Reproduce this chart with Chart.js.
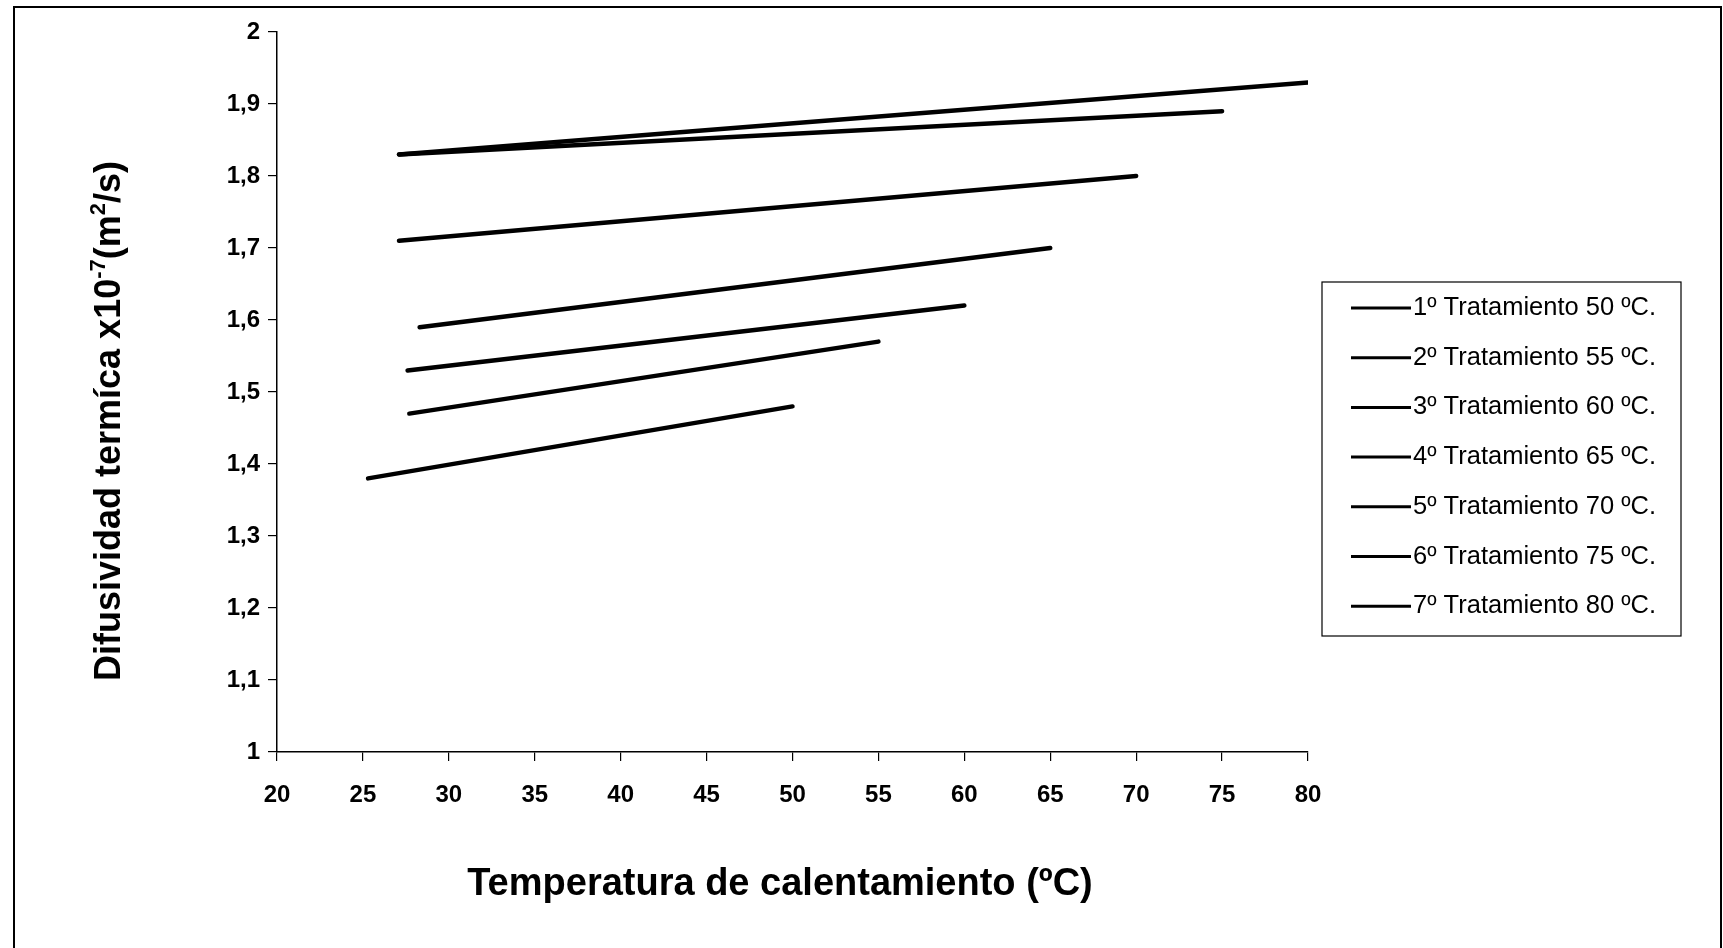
<!DOCTYPE html>
<html>
<head>
<meta charset="utf-8">
<title>Difusividad térmica</title>
<script src="https://cdn.jsdelivr.net/npm/chart.js@4.4.1/dist/chart.umd.min.js"></script>
<style>
  html, body { margin: 0; padding: 0; background: #fff; }
  #wrap { width: 1723px; height: 948px; position: relative; }
  canvas { display: block; }
</style>
</head>
<body>
<div id="wrap"><canvas id="c" width="1723" height="948"></canvas></div>
<script>
// Heating temperature (ºC) at the start and end of each treatment curve
const t1x = [25.3, 50];
const t2x = [27.7, 55];
const t3x = [27.6, 60];
const t4x = [28.3, 65];
const t5x = [27.1, 70];
const t6x = [27.1, 75];
const t7x = [27.1, 80];

// Thermal diffusivity (x10^-7 m²/s)
const t1y = [1.38, 1.48];
const t2y = [1.47, 1.57];
const t3y = [1.53, 1.62];
const t4y = [1.59, 1.70];
const t5y = [1.71, 1.80];
const t6y = [1.83, 1.89];
const t7y = [1.83, 1.93];

const seriesLabels = [
  '1º Tratamiento 50 ºC.',
  '2º Tratamiento 55 ºC.',
  '3º Tratamiento 60 ºC.',
  '4º Tratamiento 65 ºC.',
  '5º Tratamiento 70 ºC.',
  '6º Tratamiento 75 ºC.',
  '7º Tratamiento 80 ºC.'
];
const seriesX = [t1x, t2x, t3x, t4x, t5x, t6x, t7x];
const seriesY = [t1y, t2y, t3y, t4y, t5y, t6y, t7y];

const xTitle = 'Temperatura de calentamiento (ºC)';
const FONT = '"Liberation Sans", Arial, Helvetica, sans-serif';

const datasets = seriesLabels.map((lab, i) => ({
  label: lab,
  data: seriesX[i].map((x, j) => ({ x: x, y: seriesY[i][j] })),
  borderColor: '#000',
  backgroundColor: '#000',
  borderWidth: 4.5,
  borderCapStyle: 'round',
  pointRadius: 0,
  tension: 0
}));

// Page frame, axis titles and the boxed legend
const decorations = {
  id: 'decorations',
  afterDraw(chart) {
    const ctx = chart.ctx;
    ctx.save();
    // outer frame
    ctx.strokeStyle = '#000';
    ctx.lineWidth = 2;
    ctx.beginPath();
    ctx.moveTo(14, 960);
    ctx.lineTo(14, 7);
    ctx.lineTo(1721, 7);
    ctx.lineTo(1721, 960);
    ctx.stroke();

    // x axis title
    ctx.fillStyle = '#000';
    ctx.font = 'bold 38px ' + FONT;
    ctx.textAlign = 'center';
    ctx.textBaseline = 'middle';
    ctx.fillText(xTitle, 780, 885);

    // y axis title with superscripts
    const big = 'bold 36px ' + FONT;
    const small = 'bold 22px ' + FONT;
    const parts = [
      { t: 'Difusividad termíca x10', f: big, dy: 0 },
      { t: '-7', f: small, dy: -15 },
      { t: '(m', f: big, dy: 0 },
      { t: '2', f: small, dy: -15 },
      { t: '/s)', f: big, dy: 0 }
    ];
    let total = 0;
    parts.forEach(p => { ctx.font = p.f; p.w = ctx.measureText(p.t).width; total += p.w; });
    ctx.translate(107, 421);
    ctx.rotate(-Math.PI / 2);
    ctx.textAlign = 'left';
    ctx.textBaseline = 'alphabetic';
    let x = -total / 2;
    parts.forEach(p => {
      ctx.font = p.f;
      ctx.fillText(p.t, x, 13 + p.dy);
      x += p.w;
    });
    ctx.setTransform(1, 0, 0, 1, 0, 0);

    // legend
    ctx.lineWidth = 1.2;
    ctx.strokeStyle = '#000';
    ctx.strokeRect(1322, 282, 359, 354);
    ctx.font = '25.5px ' + FONT;
    ctx.textBaseline = 'middle';
    ctx.textAlign = 'left';
    chart.data.datasets.forEach((ds, i) => {
      const y = 308 + i * 49.7;
      ctx.beginPath();
      ctx.lineWidth = 3;
      ctx.moveTo(1351, y);
      ctx.lineTo(1411, y);
      ctx.stroke();
      ctx.fillText(ds.label, 1413, y);
    });
    ctx.restore();
  }
};

const fmt = v => (Math.round(v * 10) / 10).toString().replace('.', ',');

new Chart(document.getElementById('c'), {
  type: 'line',
  data: { datasets: datasets },
  options: {
    responsive: false,
    animation: false,
    events: [],
    layout: { padding: { left: 0, right: 415, top: 32, bottom: 0 } },
    plugins: { legend: { display: false }, tooltip: { enabled: false } },
    scales: {
      x: {
        type: 'linear',
        min: 20, max: 80,
        afterFit: s => { s.height = 196; },
        border: { display: true, color: '#000', width: 1.5 },
        grid: { drawOnChartArea: false, drawTicks: true, tickLength: 9, color: '#000', lineWidth: 1.2 },
        ticks: {
          stepSize: 5,
          padding: 20,
          color: '#000',
          maxRotation: 0,
          font: { family: FONT, size: 24, weight: 'bold' }
        }
      },
      y: {
        type: 'linear',
        min: 1, max: 2,
        afterFit: s => { s.width = 277; },
        border: { display: true, color: '#000', width: 1.5 },
        grid: { drawOnChartArea: false, drawTicks: true, tickLength: 9, color: '#000', lineWidth: 1.2 },
        ticks: {
          stepSize: 0.1,
          padding: 8,
          color: '#000',
          callback: v => fmt(v),
          font: { family: FONT, size: 24, weight: 'bold' }
        }
      }
    }
  },
  plugins: [decorations]
});
</script>
</body>
</html>
